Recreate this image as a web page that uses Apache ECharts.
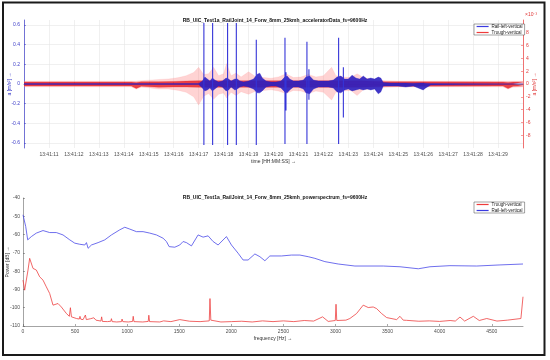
<!DOCTYPE html>
<html><head><meta charset="utf-8">
<script src="https://cdn.jsdelivr.net/npm/echarts@6/dist/echarts.min.js"></script>
<style>html,body{margin:0;padding:0;background:#fff}#c{width:550px;height:360px}</style>
</head><body><div id="c"></div>
<script>
// ---------- texts ----------
const topTitle = 'RB_UIC_Test1a_RailJoint_14_Forw_8mm_25kmh_acceleratorData_fs=9600Hz';
const botTitle = 'RB_UIC_Test1a_RailJoint_14_Forw_8mm_25kmh_powerspectrum_fs=9600Hz';
const clockPrefix = '13:41:';
const nameRail = 'Rail-left-vertical';
const nameTrough = 'Trough-vertical';

// ---------- tick values ----------
const accTicks = [-0.6, -0.4, -0.2, 0, 0.2, 0.4, 0.6];
const accRightTicks = [-8, -6, -4, -2, 0, 2, 4, 6, 8];

// ---------- top chart: time in seconds after 13:41:00 ----------
// Rail-left-vertical envelope (m/s^2)
const blueT = [10, 17.0, 17.15, 17.25, 17.35, 17.45, 17.55, 17.65, 17.8, 17.95,
  18.1, 18.2, 18.3, 18.45, 18.55, 18.65, 18.8, 19.0, 19.2, 19.35,
  19.45, 19.55, 19.7, 19.9, 20.1, 20.3, 20.45, 20.55, 20.65, 20.8,
  21.0, 21.2, 21.3, 21.45, 21.6, 21.8, 22.0, 22.2, 22.4, 22.55,
  22.7, 22.85, 23.0, 23.15, 23.3, 23.45, 23.6, 23.75, 23.9, 24.05,
  24.2, 24.3, 24.4, 24.7, 25.0, 25.3, 25.6, 25.9, 26.0, 26.1,
  26.3, 30];
const blueHi = [0.004, 0.005, 0.03, 0.07, 0.05, 0.03, 0.06, 0.04, 0.02, 0.03,
  0.06, 0.05, 0.03, 0.05, 0.05, 0.03, 0.02, 0.03, 0.05, 0.10,
  0.11, 0.06, 0.03, 0.02, 0.02, 0.03, 0.07, 0.08, 0.05, 0.03,
  0.03, 0.04, 0.07, 0.08, 0.04, 0.03, 0.03, 0.03, 0.04, 0.07,
  0.08, 0.05, 0.05, 0.09, 0.06, 0.05, 0.08, 0.05, 0.06, 0.05,
  0.07, 0.06, 0.015, 0.01, 0.01, 0.01, 0.008, 0.01, 0.01, 0.008,
  0.005, 0.004];
const blueLo = [-0.004, -0.005, -0.04, -0.07, -0.06, -0.04, -0.07, -0.05, -0.02, -0.03,
  -0.07, -0.06, -0.03, -0.06, -0.05, -0.03, -0.02, -0.03, -0.05, -0.09,
  -0.09, -0.07, -0.03, -0.02, -0.02, -0.04, -0.08, -0.09, -0.06, -0.03,
  -0.03, -0.05, -0.09, -0.10, -0.05, -0.03, -0.03, -0.03, -0.04, -0.08,
  -0.09, -0.06, -0.05, -0.07, -0.06, -0.05, -0.06, -0.05, -0.06, -0.05,
  -0.10, -0.08, -0.02, -0.02, -0.02, -0.03, -0.02, -0.05, -0.06, -0.04,
  -0.01, -0.004];
// Rail-left-vertical impact spikes
const spikeT  = [17.21, 17.56, 18.16, 18.51, 19.31, 20.46, 20.50, 21.34, 21.42, 22.61, 22.80];
const spikeHi = [0.62, 0.62, 0.62, 0.62, 0.45, 0.47, 0.12, 0.43, 0.15, 0.47, 0.17];
const spikeLo = [-0.62, -0.62, -0.62, -0.62, -0.62, -0.61, -0.27, -0.61, -0.16, -0.61, -0.34];

// Trough-vertical wide envelope (x1e-3 m/s^2)
const redT = [10, 14.3, 14.5, 14.7, 15.0, 15.4, 15.8, 16.2, 16.5, 16.8,
  17.0, 17.2, 17.4, 17.6, 17.8, 18.0, 18.12, 18.3, 18.5, 18.7,
  19.0, 19.3, 19.6, 19.9, 20.2, 20.5, 20.8, 21.1, 21.4, 21.7,
  22.0, 22.33, 22.5, 22.8, 23.1, 23.35, 23.6, 24.0, 24.5, 25.0,
  29.2, 29.4, 29.6, 30];
const redHi = [0.45, 0.45, 0.45, 0.5, 0.6, 0.7, 0.8, 1.0, 1.3, 1.8,
  2.6, 1.5, 1.6, 2.6, 1.3, 1.6, 3.2, 1.3, 1.7, 1.1,
  1.9, 1.1, 1.0, 0.9, 1.1, 1.6, 1.0, 1.1, 1.5, 1.1,
  1.3, 2.6, 1.3, 1.1, 1.0, 1.6, 1.0, 0.7, 0.5, 0.45,
  0.45, 0.45, 0.45, 0.45];
const redLo = [-0.45, -0.45, -0.8, -0.5, -0.6, -0.8, -0.8, -1.0, -1.3, -2.0,
  -3.3, -1.9, -1.5, -2.4, -1.6, -1.4, -2.2, -1.3, -1.8, -1.2,
  -1.6, -1.1, -1.0, -0.9, -1.1, -1.5, -1.0, -1.1, -1.5, -1.1,
  -1.3, -2.5, -1.3, -1.1, -1.0, -1.8, -0.9, -0.7, -0.5, -0.45,
  -0.45, -0.8, -0.5, -0.45];
// Trough-vertical dense core
const coreT  = [10, 14.3, 14.5, 14.7, 15.4, 16.0, 16.5, 17.0, 23.5, 24.5, 29.2, 29.4, 29.6, 30];
const coreHi = [0.3, 0.3, 0.25, 0.35, 0.35, 0.4, 0.45, 0.5, 0.5, 0.35, 0.3, 0.25, 0.3, 0.3];
const coreLo = [-0.3, -0.3, -0.7, -0.35, -0.5, -0.45, -0.45, -0.5, -0.5, -0.35, -0.3, -0.7, -0.35, -0.3];

// ---------- bottom chart: power spectrum ----------
const railF = [0, 26, 45, 80, 128, 192, 256, 320, 384, 449, 497, 545, 593, 609, 625, 657, 721, 785, 849, 929,
  977, 1025, 1089, 1153, 1217, 1281, 1345, 1377, 1403, 1457, 1505, 1537, 1569, 1617, 1681, 1729, 1777, 1825, 1873, 1953,
  2001, 2065, 2113, 2161, 2226, 2274, 2322, 2370, 2482, 2578, 2658, 2738, 2802, 2898, 3026, 3186, 3458, 3619, 3795, 3907,
  4099, 4356, 4579, 4800];
const railDb = [-49.2, -55.6, -62.9, -61.1, -59.2, -57.8, -58.9, -58.9, -60.2, -62.9, -64.7, -65.3, -65.7, -64.4, -67.5, -65.7, -64.4, -62.9, -60.2, -57.4,
  -56.0, -57.0, -58.4, -58.4, -59.2, -60.2, -62.0, -63.8, -66.6, -66.9, -65.7, -63.8, -64.4, -66.2, -60.2, -61.4, -60.7, -63.8, -65.7, -61.1,
  -65.7, -70.2, -73.9, -73.9, -70.6, -72.1, -74.3, -71.7, -71.7, -71.2, -71.2, -72.1, -73.0, -74.8, -76.1, -77.2, -77.2, -77.6, -78.7, -77.6,
  -77.0, -77.2, -76.6, -76.1];
const troughF = [0, 16, 32, 48, 64, 80, 96, 128, 160, 192, 224, 256, 288, 336, 368, 417, 445, 455, 465, 513,
  540, 547, 555, 577, 592, 599, 608, 650, 680, 700, 748, 755, 762, 810, 843, 849, 856, 900, 945, 951,
  958, 1010, 1052, 1058, 1065, 1150, 1202, 1208, 1215, 1313, 1350, 1420, 1505, 1600, 1700, 1788, 1795, 1803, 1900, 2000,
  2100, 2200, 2300, 2400, 2500, 2600, 2700, 2790, 2876, 2930, 2998, 3005, 3012, 3100, 3138, 3202, 3266, 3314, 3362, 3395,
  3443, 3491, 3587, 3619, 3650, 3683, 3800, 3900, 4000, 4100, 4150, 4195, 4240, 4323, 4380, 4452, 4550, 4650, 4780, 4800];
const troughDb = [-84.9, -90.4, -91.3, -79.4, -73.0, -73.5, -78.5, -79.4, -83.1, -84.9, -88.6, -92.2, -98.6, -97.7, -99.6, -103.2, -104.7, -100.0, -105.0, -105.9,
  -106.2, -104.7, -106.3, -106.5, -106.0, -104.0, -106.5, -106.0, -105.5, -106.8, -107.3, -105.0, -107.5, -107.6, -107.4, -106.0, -107.6, -107.8, -107.6, -106.2,
  -107.6, -107.8, -107.5, -104.7, -107.6, -107.8, -107.5, -104.1, -107.6, -107.8, -107.2, -107.6, -106.5, -107.4, -107.6, -107.2, -95.0, -106.8, -107.8, -107.6,
  -107.4, -107.8, -107.2, -107.6, -107.2, -107.6, -107.0, -107.3, -105.0, -107.5, -107.0, -98.1, -107.0, -106.8, -105.9, -103.2, -98.6, -99.9, -99.6, -100.5,
  -103.2, -105.4, -106.5, -104.7, -106.8, -106.9, -107.4, -107.2, -107.5, -107.0, -107.3, -105.1, -107.3, -104.7, -107.0, -105.9, -107.3, -106.8, -105.9, -94.0];

// ---------- build ----------
const zip = (a, b) => a.map((v, i) => [v, b[i]]);
const spikeData = [];
spikeT.forEach((t, i) => { spikeData.push([t, spikeHi[i]], [t, spikeLo[i]], [t, '-']); });

const FONT = 'Liberation Sans, Arial, sans-serif';
const BLUE = '#3434d8';
const BLUE_BAND = '#2a1fc0';
const RED = '#e8262c';
const GRAY = '#4d4d4d';
const LEG_BLUE = '#3a3ae0';
const LEG_RED = '#ee3b3b';

function band(name, data, yIdx, color, opacity, z) {
  return { type: 'line', name, xAxisIndex: 0, yAxisIndex: yIdx, data, symbol: 'none', silent: true,
    lineStyle: { width: 0.4, color, opacity }, itemStyle: { color },
    areaStyle: { color, opacity }, z, animation: false };
}
function legendItem(name, color) {
  return { name, itemStyle: { color, opacity: 0 }, lineStyle: { color, width: 1.2, opacity: 1 } };
}
function legend(items, top) {
  return { data: items, orient: 'vertical', left: 474, top, itemWidth: 12, itemHeight: 4,
    itemGap: 1, padding: [0, 2, 0, 2], borderColor: '#444', borderWidth: 0.5, backgroundColor: '#fff',
    textStyle: { fontSize: 4.5, color: '#222', padding: [0, 0, 0, -2] } };
}

const chart = echarts.init(document.getElementById('c'), null, { renderer: 'canvas' });
chart.setOption({
  animation: false,
  backgroundColor: '#fff',
  textStyle: { fontFamily: FONT },
  title: [
    { text: topTitle, left: 'center', top: 13, textStyle: { fontSize: 5, fontWeight: 'bold', color: '#111', fontFamily: FONT } },
    { text: botTitle, left: 'center', top: 190, textStyle: { fontSize: 5, fontWeight: 'bold', color: '#111', fontFamily: FONT } }
  ],
  legend: [
    legend([legendItem(nameRail, LEG_BLUE), legendItem(nameTrough, LEG_RED)], 24),
    legend([legendItem(nameTrough, LEG_RED), legendItem(nameRail, LEG_BLUE)], 202)
  ],
  grid: [
    { left: 24, right: 27, top: 20, height: 128, containLabel: false, outerBoundsMode: 'none' },
    { left: 23, right: 27, top: 198, height: 128, containLabel: false, outerBoundsMode: 'none' }
  ],
  xAxis: [
    { type: 'value', gridIndex: 0, min: 10, max: 30, interval: 1,
      name: 'time [HH:MM:SS] \u2192', nameLocation: 'middle', nameGap: 11, nameMoveOverlap: false,
      nameTextStyle: { fontSize: 5, color: '#333' },
      axisLine: { lineStyle: { color: '#555', width: 0.6 } },
      axisTick: { inside: true, length: 2, lineStyle: { color: '#555', width: 0.5 } },
      axisLabel: { fontSize: 5, color: GRAY, margin: 4, showMinLabel: false, showMaxLabel: false,
        formatter: v => clockPrefix + String(v).padStart(2, '0') },
      splitLine: { show: true, lineStyle: { color: '#e6e6e6', width: 0.6 } } },
    { type: 'value', gridIndex: 1, min: 0, max: 4800, interval: 500,
      name: 'frequency [Hz] \u2192', nameLocation: 'middle', nameGap: 10, nameMoveOverlap: false,
      nameTextStyle: { fontSize: 5, color: '#333' },
      axisLine: { lineStyle: { color: '#666', width: 0.6 } },
      axisTick: { inside: true, length: 2, lineStyle: { color: '#555', width: 0.5 } },
      axisLabel: { fontSize: 5, color: GRAY, margin: 3, showMaxLabel: false, formatter: v => String(v) },
      splitLine: { show: false } }
  ],
  yAxis: [
    { type: 'value', gridIndex: 0, min: -0.65, max: 0.65, position: 'left',
      name: 'a [m/s\u00b2] \u2192', nameLocation: 'middle', nameGap: 11.5, nameMoveOverlap: false,
      nameTextStyle: { fontSize: 5, color: '#3636c8' },
      axisLine: { show: true, lineStyle: { color: '#3c3cc8', width: 0.7 } },
      axisTick: { show: true, inside: true, length: 2, customValues: accTicks, lineStyle: { color: '#3c3cc8', width: 0.5 } },
      axisLabel: { fontSize: 5, color: '#3c3cc8', margin: 4, customValues: accTicks,
        formatter: v => (Math.abs(v) < 1e-9 ? '0' : String(Math.round(v * 10) / 10)) },
      splitLine: { show: true, lineStyle: { color: '#e6e6e6', width: 0.6 } } },
    { type: 'value', gridIndex: 0, min: -10, max: 10, position: 'right',
      name: 'a [m/s\u00b2] \u2192', nameLocation: 'middle', nameGap: 9.5, nameMoveOverlap: false,
      nameTextStyle: { fontSize: 5, color: '#e03a3a' },
      axisLine: { show: true, lineStyle: { color: '#ee3b3b', width: 0.7 } },
      axisTick: { show: true, inside: true, length: 2, customValues: accRightTicks, lineStyle: { color: '#ee3b3b', width: 0.5 } },
      axisLabel: { fontSize: 5, color: '#e03a3a', margin: 3, customValues: accRightTicks },
      splitLine: { show: false } },
    { type: 'value', gridIndex: 1, min: -110, max: -40, interval: 10,
      name: 'Power [dB] \u2192', nameLocation: 'middle', nameGap: 12.5, nameMoveOverlap: false,
      nameTextStyle: { fontSize: 5, color: '#333' },
      axisLine: { show: true, lineStyle: { color: '#666', width: 0.6 } },
      axisTick: { show: true, inside: true, length: 2, lineStyle: { color: '#555', width: 0.5 } },
      axisLabel: { fontSize: 5, color: GRAY, margin: 3 },
      splitLine: { show: false } }
  ],
  series: [
    band('trough-band-hi', zip(redT, redHi), 1, '#ff8080', 0.35, 1),
    band('trough-band-lo', zip(redT, redLo), 1, '#ff8080', 0.35, 1),
    band(nameTrough, zip(coreT, coreHi), 1, RED, 0.85, 2),
    band(nameTrough, zip(coreT, coreLo), 1, RED, 0.85, 2),
    band(nameRail, zip(blueT, blueHi), 0, BLUE_BAND, 0.9, 3),
    band(nameRail, zip(blueT, blueLo), 0, BLUE_BAND, 0.9, 3),
    { type: 'line', name: 'rail-spikes', xAxisIndex: 0, yAxisIndex: 0, data: spikeData, symbol: 'none',
      connectNulls: false, lineStyle: { color: BLUE, width: 1.1 }, itemStyle: { color: BLUE }, z: 4 },
    { type: 'line', name: nameTrough, xAxisIndex: 1, yAxisIndex: 2, data: zip(troughF, troughDb), symbol: 'none',
      lineStyle: { color: '#ee4040', width: 0.8 }, itemStyle: { color: '#ee4040' }, z: 3 },
    { type: 'line', name: nameRail, xAxisIndex: 1, yAxisIndex: 2, data: zip(railF, railDb), symbol: 'none',
      lineStyle: { color: '#4a4ae8', width: 0.8 }, itemStyle: { color: '#4a4ae8' }, z: 3 }
  ],
  graphic: [
    { type: 'rect', shape: { x: 3, y: 2.5, width: 541.5, height: 352.5 }, style: { fill: 'none', stroke: '#1a1a1a', lineWidth: 2 }, silent: true, z: 100 },
    { type: 'text', left: 525, top: 12, style: { text: '\u00d710\u207b\u00b3', fontSize: 5, fill: '#e03a3a', fontFamily: FONT }, silent: true }
  ]
});
</script>
</body></html>
